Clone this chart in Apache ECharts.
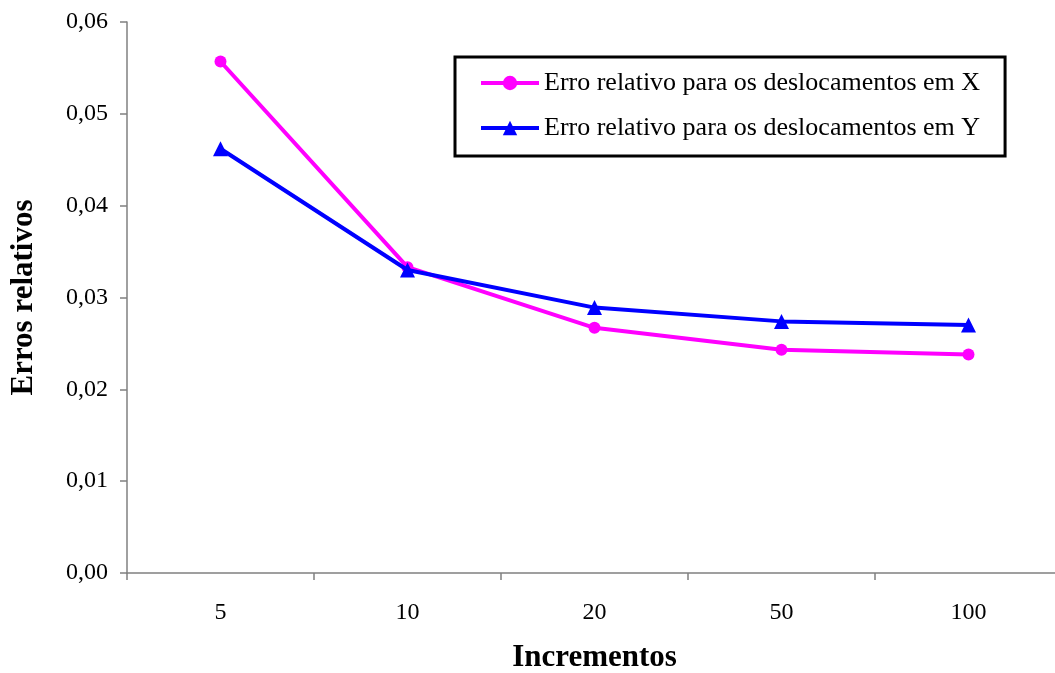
<!DOCTYPE html>
<html>
<head>
<meta charset="utf-8">
<script src="https://cdn.jsdelivr.net/npm/echarts@6/dist/echarts.min.js"></script>
<style>
  html, body { margin: 0; padding: 0; background: #fff; }
  #chart { width: 1055px; height: 673px; }
</style>
</head>
<body>
<div id="chart"></div>
<script>
// Number of load increments
const categories = ['5', '10', '20', '50', '100'];
// Relative error of the displacements
const errX = [0.0557, 0.0333, 0.0267, 0.0243, 0.0238];
const errY = [0.0462, 0.0330, 0.0289, 0.0274, 0.0270];
const nameX = 'Erro relativo para os deslocamentos em X';
const nameY = 'Erro relativo para os deslocamentos em Y';

const serif = '"Liberation Serif", "DejaVu Serif", serif';
const axisGray = '#808080';

const chart = echarts.init(document.getElementById('chart'), null, { renderer: 'canvas' });
chart.setOption({
  backgroundColor: '#ffffff',
  animation: false,
  textStyle: { fontFamily: serif, color: '#000' },
  // the category axis runs a little past the right edge of the canvas
  grid: { left: 127, top: 22, width: 935, height: 551, containLabel: false, outerBoundsMode: 'none' },
  legend: {
    orient: 'vertical',
    left: 455,
    top: 57,
    padding: [13, 25, 15, 24],
    itemGap: 19,
    itemWidth: 58,
    itemHeight: 18,
    borderColor: '#000',
    borderWidth: 3,
    backgroundColor: '#fff',
    lineStyle: { width: 4 },
    textStyle: { fontFamily: serif, fontSize: 26, color: '#000' },
    data: [nameX, nameY]
  },
  xAxis: {
    type: 'category',
    data: categories,
    boundaryGap: true,
    name: 'Incrementos',
    nameLocation: 'middle',
    nameGap: 69,
    nameTextStyle: { fontFamily: serif, fontSize: 31, fontWeight: 'bold', color: '#000' },
    axisLine: { lineStyle: { color: axisGray, width: 1.5 } },
    axisTick: { show: true, length: 7, inside: false, lineStyle: { color: axisGray, width: 1.5 } },
    axisLabel: { fontFamily: serif, fontSize: 24, color: '#000', margin: 28 },
    splitLine: { show: false }
  },
  yAxis: {
    type: 'value',
    min: 0,
    max: 0.06,
    interval: 0.01,
    name: 'Erros relativos',
    nameLocation: 'middle',
    nameGap: 88,
    nameRotate: 90,
    nameTextStyle: { fontFamily: serif, fontSize: 31, fontWeight: 'bold', color: '#000' },
    axisLine: { show: true, lineStyle: { color: axisGray, width: 1.5 } },
    axisTick: { show: true, length: 7, inside: false, lineStyle: { color: axisGray, width: 1.5 } },
    axisLabel: {
      fontFamily: serif, fontSize: 24, color: '#000', margin: 19,
      formatter: v => v.toFixed(2).replace('.', ',')
    },
    splitLine: { show: false }
  },
  series: [
    {
      name: nameX,
      type: 'line',
      data: errX,
      symbol: 'circle',
      symbolSize: 12,
      showAllSymbol: true,
      lineStyle: { color: '#ff00ff', width: 4 },
      itemStyle: { color: '#ff00ff' },
      z: 2
    },
    {
      name: nameY,
      type: 'line',
      data: errY,
      symbol: 'triangle',
      symbolSize: 15,
      showAllSymbol: true,
      lineStyle: { color: '#0000ff', width: 4 },
      itemStyle: { color: '#0000ff' },
      z: 3
    }
  ]
});
</script>
</body>
</html>
